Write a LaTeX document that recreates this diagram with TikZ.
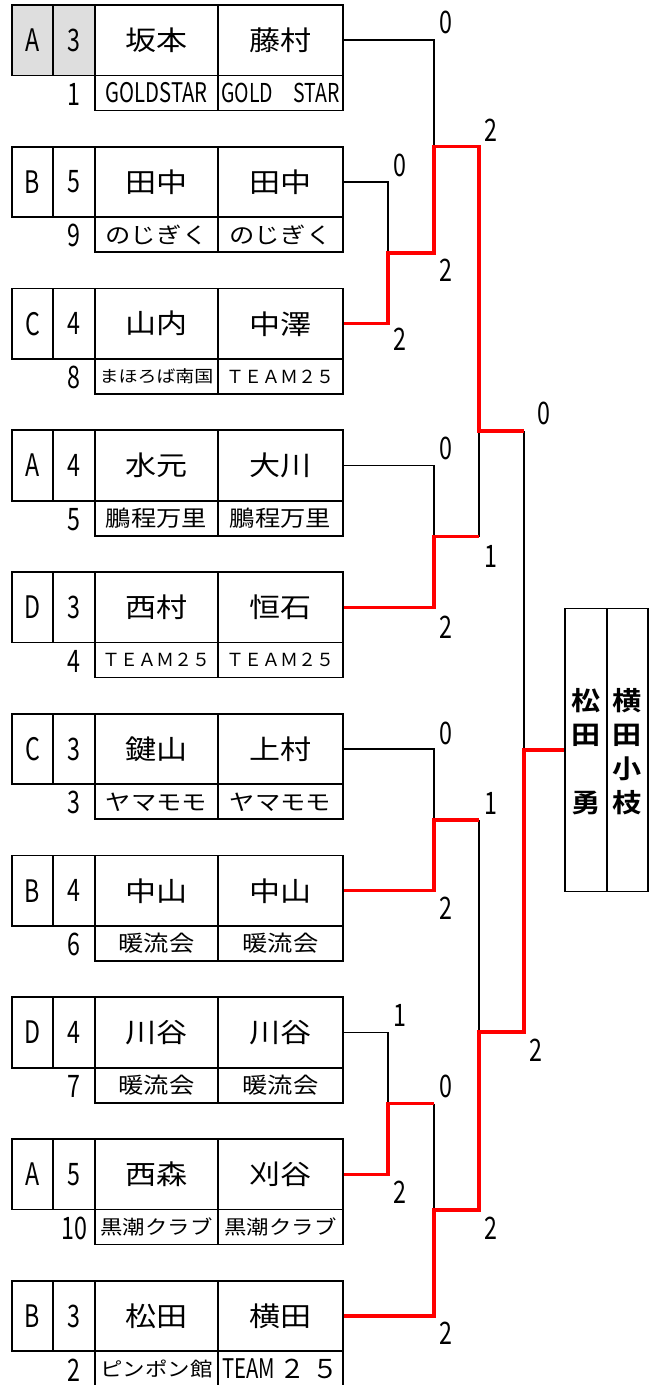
\documentclass[tikz,border=0pt]{standalone}
\usepackage{fontspec}
\usetikzlibrary{calc}
\newfontfamily\jpfont{Noto Sans CJK JP}
\newfontfamily\namefont[FakeStretch=1.15]{Noto Sans CJK JP}
\newfontfamily\narrowfont[FakeStretch=0.75]{Noto Sans CJK JP}
\newfontfamily\champfont[FakeStretch=1.12]{Noto Sans CJK JP Bold}
\def\fs#1{\fontsize{#1}{#1}\selectfont}
\tikzset{
	cellbox/.style={draw, line width=1.8pt, inner sep=0pt},
	bigtxt/.style={font=\narrowfont\fs{31}},
	playertxt/.style={font=\namefont\fs{27}},
	clubtxt/.style={font=\namefont\fs{22}},
	scoretxt/.style={font=\narrowfont\fs{31}, inner sep=0pt},
	loseline/.style={line width=1.6pt},
	winline/.style={line width=3.4pt, red},
}
% #1 top, #2 name, #3 group, #4 games, #5 seed, #6 #7 players, #8 #9 clubs
\def\entry#1#2#3#4#5#6#7#8#9{
	\node[cellbox, bigtxt, minimum width=41pt, minimum height=70.5pt] (#2l) at (32.5, #1+35.25) {#3};
	\node[cellbox, bigtxt, minimum width=42pt, minimum height=70.5pt] (#2n) at (74, #1+35.25) {#4};
	\node[cellbox, playertxt, minimum width=123pt, minimum height=70.5pt] (#2p) at (156.5, #1+35.25) {#6};
	\node[cellbox, playertxt, minimum width=125pt, minimum height=70.5pt] (#2q) at (280.5, #1+35.25) {#7};
	\node[cellbox, clubtxt, minimum width=123pt, minimum height=35pt] (#2c) at (156.5, #1+88) {#8};
	\node[cellbox, clubtxt, minimum width=125pt, minimum height=35pt] (#2d) at (280.5, #1+88) {#9};
	\node[bigtxt] (#2s) at (74, #1+89) {#5};
}

\begin{document}
\begin{tikzpicture}[x=1pt, y=-1pt]
	\useasboundingbox (0, 0) rectangle (657, 1385);
	%%%%% ENTRIES %%%%%
	\fill[black!13] (12, 5) rectangle (95, 75.5);
	\entry{5}{b0}{A}{3}{1}{坂本}{藤村}{\narrowfont\fs{27}GOLDSTAR}{\narrowfont\fs{26}GOLD\hspace{20pt}STAR}
	\entry{146.75}{b1}{B}{5}{9}{田中}{田中}{のじぎく}{のじぎく}
	\entry{288.5}{b2}{C}{4}{8}{山内}{中澤}{\fs{16.5}まほろば南国}{\jpfont\fs{18}ＴＥＡＭ２５}
	\entry{430.25}{b3}{A}{4}{5}{水元}{大川}{鵬程万里}{鵬程万里}
	\entry{572}{b4}{D}{3}{4}{西村}{恒石}{\jpfont\fs{18}ＴＥＡＭ２５}{\jpfont\fs{18}ＴＥＡＭ２５}
	\entry{713.75}{b5}{C}{3}{3}{鍵山}{上村}{ヤマモモ}{ヤマモモ}
	\entry{855.5}{b6}{B}{4}{6}{中山}{中山}{暖流会}{暖流会}
	\entry{997.25}{b7}{D}{4}{7}{川谷}{川谷}{暖流会}{暖流会}
	\entry{1139}{b8}{A}{5}{10}{西森}{刈谷}{\fs{19.5}黒潮クラブ}{\fs{19.5}黒潮クラブ}
	\entry{1280.75}{b9}{B}{3}{2}{松田}{横田}{\fs{19.5}ピンポン館}{\narrowfont\fs{27}TEAM\hspace{4pt}\jpfont\fs{26}２\hspace{7pt}５}
	
	%%%%% WINNER %%%%%
	\node[cellbox, minimum width=42pt, minimum height=283pt, align=center, font=\champfont\fs{26}, text depth=0pt] (wl) at (586, 750) {松\\[8pt]田\\[8pt]　\\[8pt]勇};
	\node[cellbox, minimum width=41pt, minimum height=283pt, align=center, font=\champfont\fs{26}, text depth=0pt] (wr) at (627.5, 750) {横\\[8pt]田\\[8pt]小\\[8pt]枝};
	
	%%%%% BRACKET %%%%%
	\coordinate (m1) at (388, 253);
	\coordinate (m2) at (434, 146.5);
	\coordinate (m3) at (434, 536.5);
	\coordinate (m4) at (479, 431);
	\coordinate (f1) at (524, 431);
	\coordinate (fin) at (524, 750);
	\coordinate (m5) at (434, 820);
	\coordinate (m6) at (388, 1103.5);
	\coordinate (m7) at (434, 1210);
	\coordinate (m8) at (479, 1032);
	
	\draw[loseline] (b0q.east) -| (m2);
	\draw[loseline] (b1q.east) -| (m1);
	\draw[loseline] (b3q.east) -| (m3);
	\draw[loseline] ($(m3 -| m4)$) -- (m4);
	\draw[loseline] (f1) -- (fin);
	\draw[loseline] (b5q.east) -| (m5);
	\draw[loseline] ($(m5 -| m8)$) -- (m8);
	\draw[loseline] (b7q.east) -| (m6);
	\draw[loseline] ($(m6 -| m7)$) -- (m7);
	
	\draw[winline] (b2q.east) -| (m1) -| (m2) -| (m4) -- (f1);
	\draw[winline] (b4q.east) -| (m3) -- (m3 -| m4);
	\draw[winline] (b6q.east) -| (m5) -- (m5 -| m8);
	\draw[winline] (b8q.east) -| (m6) -- (m6 -| m7);
	\draw[winline] (b9q.east) -| (m7) -| (m8) -| (fin) -- (wl.west);
	
	%%%%% SCORES %%%%%
	\node[scoretxt] (s1a) at (400, 165) {0};
	\node[scoretxt] (s1b) at (400, 339) {2};
	\node[scoretxt] (s2a) at (446, 22) {0};
	\node[scoretxt] (s2b) at (446, 270) {2};
	\node[scoretxt] (s3a) at (446, 448) {0};
	\node[scoretxt] (s3b) at (446, 627) {2};
	\node[scoretxt] (s4a) at (491, 130) {2};
	\node[scoretxt] (s4b) at (491, 556) {1};
	\node[scoretxt] (sfa) at (544, 413) {0};
	\node[scoretxt] (sfb) at (536, 1050) {2};
	\node[scoretxt] (s5a) at (446, 733) {0};
	\node[scoretxt] (s5b) at (446, 908) {2};
	\node[scoretxt] (s6a) at (400, 1015) {1};
	\node[scoretxt] (s6b) at (400, 1192) {2};
	\node[scoretxt] (s7a) at (446, 1086) {0};
	\node[scoretxt] (s7b) at (446, 1333) {2};
	\node[scoretxt] (s8a) at (491, 803) {1};
	\node[scoretxt] (s8b) at (491, 1228) {2};
\end{tikzpicture}
\end{document}
